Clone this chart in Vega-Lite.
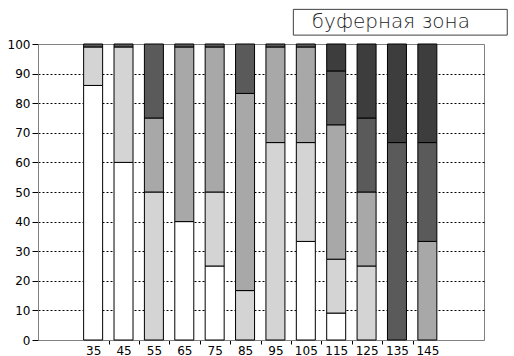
{
  "$schema": "https://vega.github.io/schema/vega-lite/v6.json",
  "width": 446,
  "height": 296,
  "autosize": {"type": "none"},
  "padding": {"left": 38, "top": 44, "right": 30, "bottom": 16},
  "background": "white",
  "config": {"view": {"stroke": "#808080", "strokeWidth": 1}, "font": "DejaVu Sans"},
  "layer": [
    {
      "data": {"values": [
        {"x": 35, "cat": "A", "v": 86}, {"x": 35, "cat": "B", "v": 13}, {"x": 35, "cat": "D", "v": 1},
        {"x": 45, "cat": "A", "v": 60}, {"x": 45, "cat": "B", "v": 39}, {"x": 45, "cat": "D", "v": 1},
        {"x": 55, "cat": "B", "v": 50}, {"x": 55, "cat": "C", "v": 25}, {"x": 55, "cat": "D", "v": 25},
        {"x": 65, "cat": "A", "v": 40}, {"x": 65, "cat": "C", "v": 59}, {"x": 65, "cat": "D", "v": 1},
        {"x": 75, "cat": "A", "v": 25}, {"x": 75, "cat": "B", "v": 25}, {"x": 75, "cat": "C", "v": 49}, {"x": 75, "cat": "D", "v": 1},
        {"x": 85, "cat": "B", "v": 16.7}, {"x": 85, "cat": "C", "v": 66.6}, {"x": 85, "cat": "D", "v": 16.7},
        {"x": 95, "cat": "B", "v": 66.7}, {"x": 95, "cat": "C", "v": 32.3}, {"x": 95, "cat": "D", "v": 1},
        {"x": 105, "cat": "A", "v": 33.3}, {"x": 105, "cat": "B", "v": 33.4}, {"x": 105, "cat": "C", "v": 32.3}, {"x": 105, "cat": "D", "v": 1},
        {"x": 115, "cat": "A", "v": 9.1}, {"x": 115, "cat": "B", "v": 18.2}, {"x": 115, "cat": "C", "v": 45.4}, {"x": 115, "cat": "D", "v": 18.2}, {"x": 115, "cat": "E", "v": 9.1},
        {"x": 125, "cat": "B", "v": 25}, {"x": 125, "cat": "C", "v": 25}, {"x": 125, "cat": "D", "v": 25}, {"x": 125, "cat": "E", "v": 25},
        {"x": 135, "cat": "D", "v": 66.7}, {"x": 135, "cat": "E", "v": 33.3},
        {"x": 145, "cat": "C", "v": 33.3}, {"x": 145, "cat": "D", "v": 33.4}, {"x": 145, "cat": "E", "v": 33.3}
      ]},
      "mark": {"type": "bar", "size": 19, "stroke": "black", "strokeWidth": 1},
      "encoding": {
        "x": {
          "field": "x", "type": "quantitative",
          "scale": {"domain": [18.5, 162], "nice": false, "zero": false},
          "axis": {
            "values": [35, 45, 55, 65, 75, 85, 95, 105, 115, 125, 135, 145],
            "title": null, "grid": false,
            "tickOffset": 15.54, "labelOffset": -15.54,
            "tickOpacity": {"condition": {"test": "datum.value == 145", "value": 0}, "value": 1},
            "tickSize": 4, "tickColor": "black", "domainColor": "#808080",
            "labelPadding": 1, "labelFontSize": 12, "labelColor": "black", "labelFont": "DejaVu Sans",
            "labelFlush": false, "labelOverlap": false
          }
        },
        "y": {
          "field": "v", "type": "quantitative", "stack": "zero",
          "scale": {"domain": [0, 100], "nice": false},
          "axis": {
            "values": [0, 10, 20, 30, 40, 50, 60, 70, 80, 90, 100],
            "title": null, "grid": true, "gridColor": "black", "gridDash": [2, 2], "gridWidth": 1,
            "gridOpacity": {"condition": {"test": "datum.value == 0 || datum.value == 100", "value": 0}, "value": 1},
            "tickSize": 6, "tickColor": "black", "domainColor": "#808080",
            "labelPadding": 2, "labelFontSize": 12, "labelColor": "black", "labelFont": "DejaVu Sans",
            "labelOverlap": false
          }
        },
        "color": {
          "field": "cat", "type": "nominal",
          "scale": {"domain": ["A", "B", "C", "D", "E"], "range": ["#ffffff", "#d4d4d4", "#a8a8a8", "#5a5a5a", "#3d3d3d"]},
          "legend": null
        },
        "order": {"field": "cat", "sort": "ascending"}
      }
    },
    {
      "data": {"values": [{"label": "буферная зона"}]},
      "mark": {"type": "rect", "fill": "white", "stroke": "#404040", "strokeWidth": 1, "clip": false},
      "encoding": {
        "x": {"datum": 100.9, "type": "quantitative",
          "axis": {
            "values": [35, 45, 55, 65, 75, 85, 95, 105, 115, 125, 135, 145],
            "title": null, "grid": false,
            "tickOffset": 15.54, "labelOffset": -15.54,
            "tickOpacity": {"condition": {"test": "datum.value == 145", "value": 0}, "value": 1},
            "tickSize": 4, "tickColor": "black", "domainColor": "#808080",
            "labelPadding": 1, "labelFontSize": 12, "labelColor": "black", "labelFont": "DejaVu Sans",
            "labelFlush": false, "labelOverlap": false
          }},
        "x2": {"datum": 171.3},
        "y": {"datum": 111.7, "type": "quantitative",
          "axis": {
            "values": [0, 10, 20, 30, 40, 50, 60, 70, 80, 90, 100],
            "title": null, "grid": true, "gridColor": "black", "gridDash": [2, 2], "gridWidth": 1,
            "gridOpacity": {"condition": {"test": "datum.value == 0 || datum.value == 100", "value": 0}, "value": 1},
            "tickSize": 6, "tickColor": "black", "domainColor": "#808080",
            "labelPadding": 2, "labelFontSize": 12, "labelColor": "black", "labelFont": "DejaVu Sans",
            "labelOverlap": false
          }},
        "y2": {"datum": 103}
      }
    },
    {
      "data": {"values": [{"label": "буферная зона"}]},
      "mark": {"type": "text", "font": "DejaVu Sans", "fontSize": 20, "fontWeight": 200, "align": "center", "baseline": "alphabetic", "color": "#222222", "clip": false},
      "encoding": {
        "x": {"datum": 133, "type": "quantitative",
          "axis": {
            "values": [35, 45, 55, 65, 75, 85, 95, 105, 115, 125, 135, 145],
            "title": null, "grid": false,
            "tickOffset": 15.54, "labelOffset": -15.54,
            "tickOpacity": {"condition": {"test": "datum.value == 145", "value": 0}, "value": 1},
            "tickSize": 4, "tickColor": "black", "domainColor": "#808080",
            "labelPadding": 1, "labelFontSize": 12, "labelColor": "black", "labelFont": "DejaVu Sans",
            "labelFlush": false, "labelOverlap": false
          }},
        "y": {"datum": 105.3, "type": "quantitative",
          "axis": {
            "values": [0, 10, 20, 30, 40, 50, 60, 70, 80, 90, 100],
            "title": null, "grid": true, "gridColor": "black", "gridDash": [2, 2], "gridWidth": 1,
            "gridOpacity": {"condition": {"test": "datum.value == 0 || datum.value == 100", "value": 0}, "value": 1},
            "tickSize": 6, "tickColor": "black", "domainColor": "#808080",
            "labelPadding": 2, "labelFontSize": 12, "labelColor": "black", "labelFont": "DejaVu Sans",
            "labelOverlap": false
          }},
        "text": {"field": "label"}
      }
    }
  ]
}
